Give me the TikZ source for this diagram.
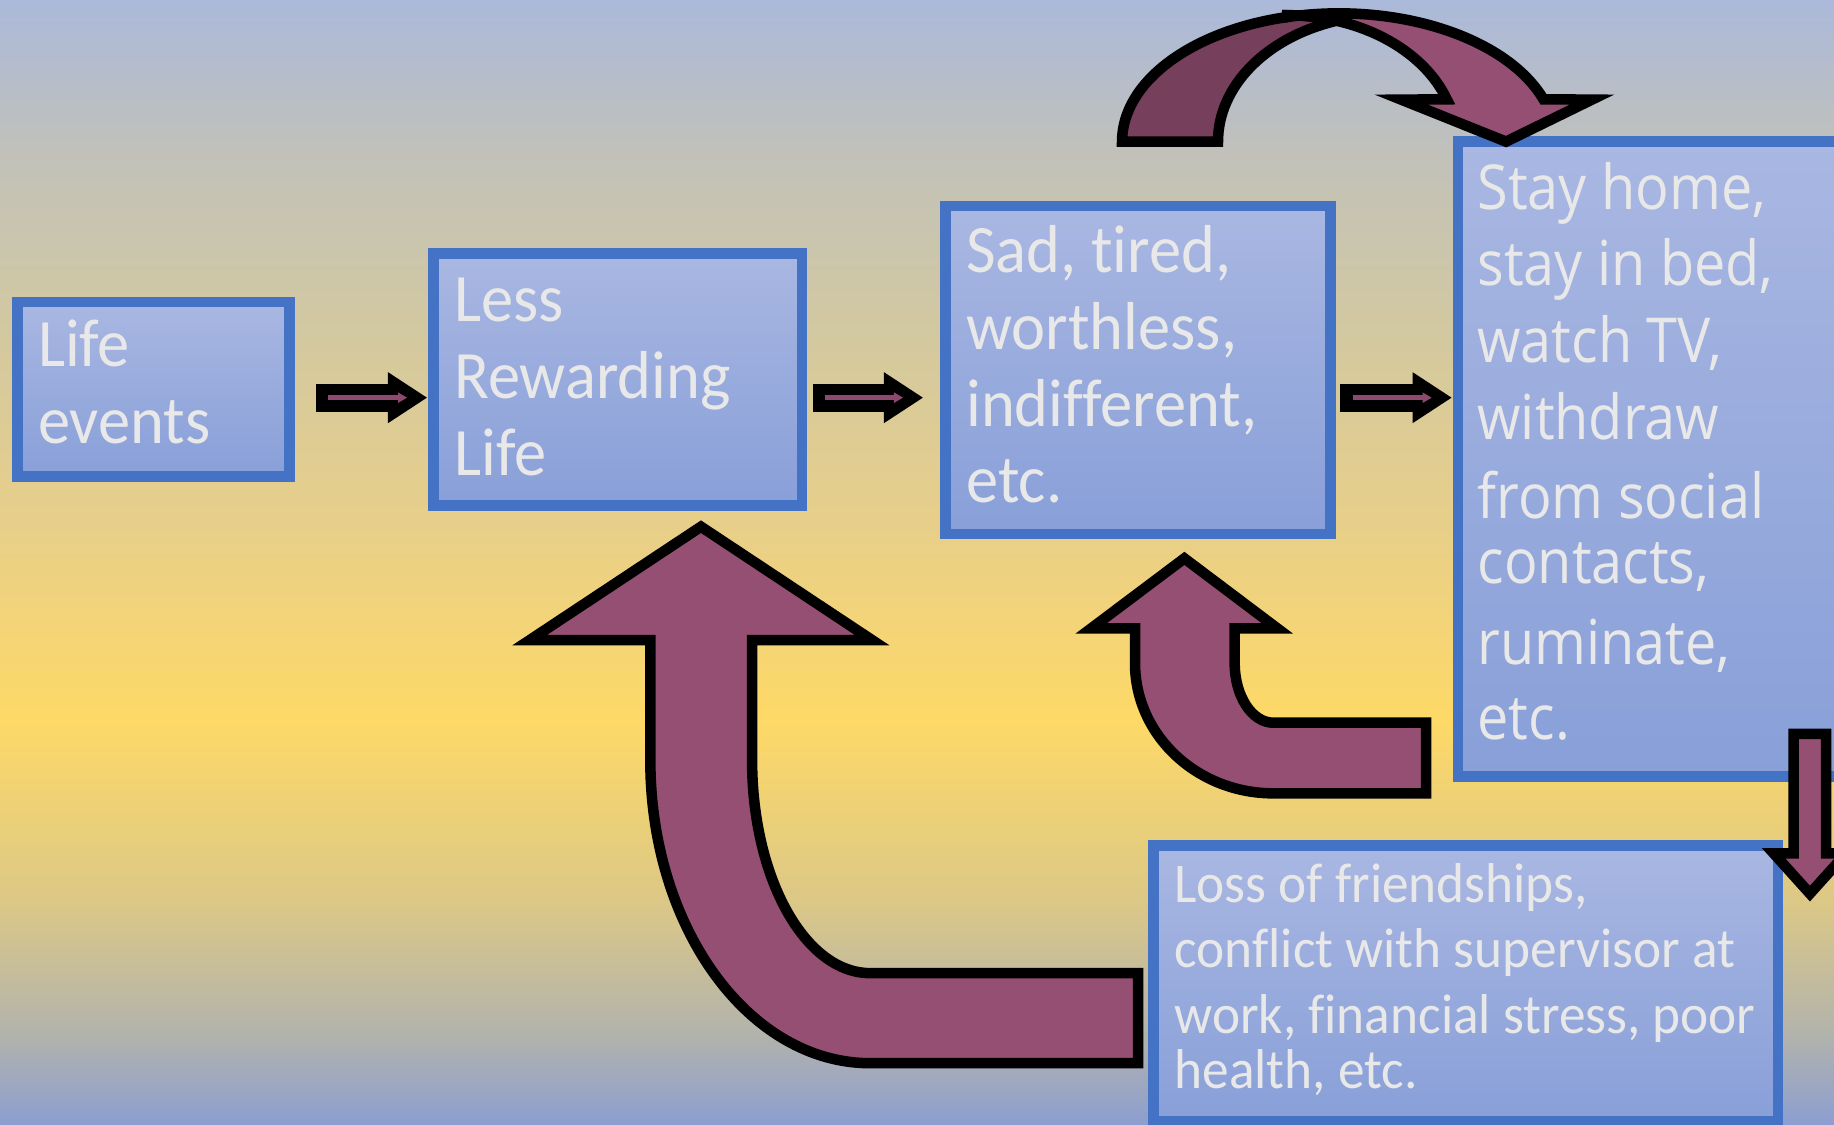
\documentclass[tikz,border=0pt]{standalone}
\usepackage{fontspec}
\setmainfont[FakeStretch=0.95, Ligatures=NoCommon]{Carlito}
\newfontfamily\stayfont[FakeStretch=0.9]{Open Sans}
\usetikzlibrary{arrows.meta}
\definecolor{bgA}{HTML}{8C9ED0}
\definecolor{bgB}{HTML}{B2B3AC}
\definecolor{bgC}{HTML}{DCC886}
\definecolor{bgD}{HTML}{FED967}
\definecolor{bgE}{HTML}{E8CF89}
\definecolor{bgF}{HTML}{D4C99E}
\definecolor{bgG}{HTML}{C3C2B7}
\definecolor{bgH}{HTML}{ABB9DA}
\definecolor{boxblue}{HTML}{4472C4}
\definecolor{boxtop}{HTML}{A9B7E2}
\definecolor{boxbot}{HTML}{889FD8}
\definecolor{textgray}{HTML}{E8E8E8}
\definecolor{arrowpink}{HTML}{954F72}
\definecolor{arrowdark}{HTML}{763F5C}
\definecolor{linkpink}{HTML}{8E4A6E}
\pgfdeclareverticalshading{backdrop}{100bp}{color(0bp)=(bgA); color(25bp)=(bgA); color(29bp)=(bgB); color(35bp)=(bgC); color(43bp)=(bgD); color(51.5bp)=(bgE); color(59.5bp)=(bgF); color(67.5bp)=(bgG); color(75bp)=(bgH); color(100bp)=(bgH)}
\tikzset{
  box/.style={draw=boxblue, line width=9pt, top color=boxtop, bottom color=boxbot, inner sep=0pt},
  boxtext/.style={text=textgray, align=left, inner sep=0pt, anchor=west, font=\fontsize{58pt}{65.6pt}\selectfont},
  fatarrow/.style={line width=24pt, -{Triangle[length=33.3pt, width=43.6pt, line width=0pt]}},
  thinarrow/.style={draw=linkpink, line width=4.3pt, -{Triangle[length=7.7pt, width=9pt, line width=0pt]}},
  bent/.style={draw=black, fill=arrowpink, line width=9pt, line join=miter}
}
\begin{document}
\begin{tikzpicture}[x=1pt,y=1pt]
  \useasboundingbox (0,0) rectangle (1568,961);
  \clip (0,0) rectangle (1568,961);
  \shade[shading=backdrop] (0,0) rectangle (1568,961);

  \node[box, minimum width=232.9pt, minimum height=149.2pt] (life) at (131.25,628) {};
  \node[box, minimum width=315pt, minimum height=215.3pt] (reward) at (528.2,636.55) {};
  \node[box, minimum width=328.9pt, minimum height=280.5pt] (sad) at (972.95,644.65) {};
  \node[box, minimum width=343.5pt, minimum height=542.8pt] (stay) at (1418.25,568.6) {};
  \node[box, minimum width=533.8pt, minimum height=236pt] (loss) at (1253.3,120.3) {};

  \node[boxtext] (lifetext) at ([xshift=22pt]life.west) {\strut Life\\events\strut};
  \node[boxtext] (rewardtext) at ([xshift=22pt,yshift=-3pt]reward.west) {\strut Less\\Rewarding\\Life\strut};
  \node[boxtext] (sadtext) at ([xshift=22pt,yshift=-2pt]sad.west) {\strut Sad, tired,\\worthless,\\indifferent,\\etc.\strut};
  \node[boxtext, font=\stayfont\fontsize{53pt}{65pt}\selectfont] (staytext) at ([xshift=21pt]stay.west)
    {\strut Stay home,\\stay in bed,\\[1pt]watch TV,\\[1pt]withdraw\\[2pt]from social\\[-9pt]contacts,\\[4pt]ruminate,\\[-1pt]etc.\strut};
  \node[boxtext, font=\fontsize{48pt}{56pt}\selectfont] (losstext) at ([xshift=22pt,yshift=1pt]loss.west)
    {\strut Loss of friendships,\\conflict with supervisor at\\work, financial stress, poor\\[-9pt]health, etc.\strut};

  \coordinate (row) at (0,621);
  \draw[fatarrow, shorten <=17.8pt, shorten >=1.2pt] (life.east |- row) -- (reward.west |- row);
  \draw[thinarrow, shorten <=28.2pt, shorten >=18.2pt] (life.east |- row) -- (reward.west |- row);
  \draw[fatarrow, shorten <=4.5pt, shorten >=15pt] (reward.east |- row) -- (sad.west |- row);
  \draw[thinarrow, shorten <=14.9pt, shorten >=32pt] (reward.east |- row) -- (sad.west |- row);
  \draw[fatarrow, shorten <=4.1pt, shorten >=1pt] (sad.east |- row) -- (stay.west |- row);
  \draw[thinarrow, shorten <=14.5pt, shorten >=18pt] (sad.east |- row) -- (stay.west |- row);

  \draw[bent, fill=arrowdark] (959.3,839.9) arc[start angle=180, end angle=103.8, x radius=185.3, y radius=109.7]
    -- (1100.5,948) arc[start angle=90, end angle=73, x radius=144.8, y radius=108.1]
    arc[start angle=107.4, end angle=180, x radius=144.8, y radius=108.3] -- cycle;
  \draw[bent] (1100.5,946.4) arc[start angle=103.8, end angle=19.3, x radius=185.3, y radius=109.7]
    -- (1361,875.8) -- (1287.6,839.9) -- (1198,875.8) -- (1236.9,876.1)
    arc[start angle=19.6, end angle=90, x radius=144.8, y radius=108.1] -- cycle;

  \draw[bent] (599.3,510.7) -- (745.5,413.8) -- (643,413.8) -- (643,311)
    arc[start angle=180, end angle=270, x radius=101, y radius=182] -- (973,129) -- (973,52) -- (744,52)
    arc[start angle=270, end angle=180, x radius=188, y radius=259] -- (556,413.8) -- (453,413.8) -- cycle;

  \draw[bent] (1012.6,483.6) -- (1092,423.8) -- (1055.6,423.8) -- (1055.6,393.9)
    arc[start angle=180, end angle=270, x radius=33.1, y radius=50.8] -- (1219.2,343.1) -- (1219.2,282.7) -- (1088.7,282.7)
    arc[start angle=270, end angle=180, x radius=118.3, y radius=111.2] -- (970.4,423.8) -- (933,423.8) -- cycle;

  \draw[bent] (1533.5,333.6) -- (1561.3,333.6) -- (1561.3,231.4) -- (1578.4,231.4) -- (1547.4,197)
    -- (1516.4,231.4) -- (1533.5,231.4) -- cycle;
\end{tikzpicture}
\end{document}
